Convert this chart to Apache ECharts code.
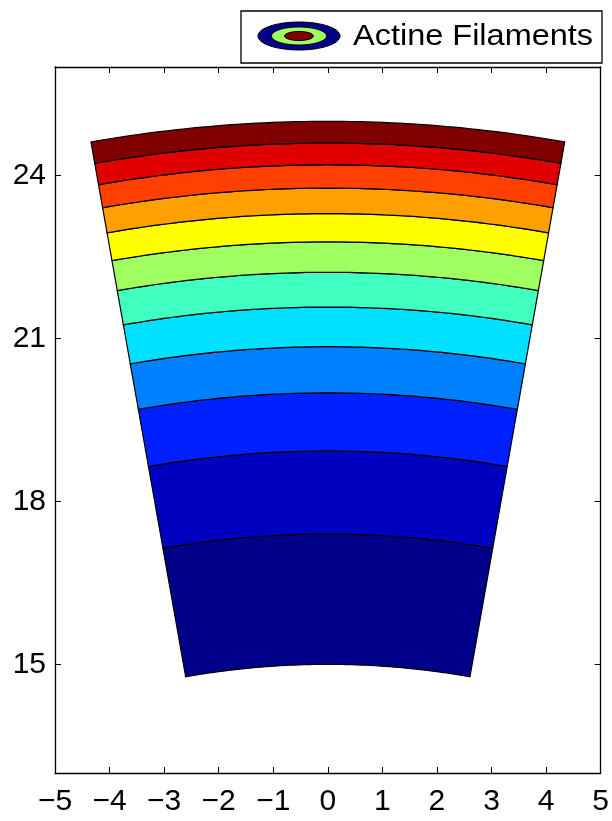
<!DOCTYPE html>
<html><head><meta charset="utf-8">
<script src="https://cdn.jsdelivr.net/npm/echarts@6/dist/echarts.min.js"></script>
<style>html,body{margin:0;padding:0;background:#fff}#c{width:612px;height:821px}</style>
</head><body><div id="c"></div>
<script>
// Band boundaries (radius values) of the contour sector
const bandEdges = [15, 17.4, 18.93, 20.0, 20.85, 21.58, 22.22, 22.78, 23.3, 23.77, 24.2, 24.6, 25];
const bandColors = ['#000088', '#0000C0', '#0020FF', '#0080FF', '#00E0FF', '#40FFC0', '#A0FF60', '#FFFF00', '#FFA000', '#FF4000', '#E00000', '#800000'];
const sectorAngles = [80, 100]; // degrees
const xTicks = [-5, -4, -3, -2, -1, 0, 1, 2, 3, 4, 5];
const yTicks = [15, 18, 21, 24];
const legendLabel = 'Actine Filaments';

const FONT = '"Liberation Sans", Arial, Helvetica, sans-serif';
const bands = bandColors.map((c, i) => [bandEdges[i], bandEdges[i + 1], i]);
const fmt = v => String(v).replace('-', '\u2212');

const chart = echarts.init(document.getElementById('c'), null, {renderer: 'canvas'});

function renderBand(params, api) {
  const r0 = api.value(0), r1 = api.value(1), idx = api.value(2);
  const a0 = sectorAngles[0] * Math.PI / 180, a1 = sectorAngles[1] * Math.PI / 180;
  const N = 60;
  const pts = [];
  for (let k = 0; k <= N; k++) {
    const a = a0 + (a1 - a0) * k / N;
    pts.push(api.coord([r1 * Math.cos(a), r1 * Math.sin(a)]));
  }
  for (let k = N; k >= 0; k--) {
    const a = a0 + (a1 - a0) * k / N;
    pts.push(api.coord([r0 * Math.cos(a), r0 * Math.sin(a)]));
  }
  return {
    type: 'polygon',
    shape: {points: pts},
    style: {fill: bandColors[idx], stroke: '#000', lineWidth: 1.2, lineJoin: 'miter'}
  };
}

const axisLineStyle = {show: true, onZero: false, lineStyle: {color: '#000', width: 1.3}};
const labelStyle = {fontSize: 30, color: '#000', fontFamily: FONT};

chart.setOption({
  animation: false,
  backgroundColor: '#fff',
  grid: {left: 55, right: 11, top: 67, bottom: 48, containLabel: false},
  xAxis: [
    {type: 'value', min: xTicks[0], max: xTicks[xTicks.length - 1], interval: 1, position: 'bottom',
     axisLine: axisLineStyle, axisTick: {inside: true, length: 6, lineStyle: {color: '#000', width: 1}},
     axisLabel: Object.assign({margin: 14, formatter: fmt}, labelStyle), splitLine: {show: false}},
    {type: 'value', min: xTicks[0], max: xTicks[xTicks.length - 1], interval: 1, position: 'top',
     axisLine: axisLineStyle, axisTick: {inside: true, length: 6, lineStyle: {color: '#000', width: 1}},
     axisLabel: {show: false}, splitLine: {show: false}}
  ],
  yAxis: [
    {type: 'value', min: 13, max: 26, position: 'left',
     axisLine: axisLineStyle, axisTick: {inside: true, length: 6, customValues: yTicks, lineStyle: {color: '#000', width: 1}},
     axisLabel: Object.assign({margin: 9, customValues: yTicks, formatter: fmt}, labelStyle), splitLine: {show: false}},
    {type: 'value', min: 13, max: 26, position: 'right',
     axisLine: axisLineStyle, axisTick: {inside: true, length: 6, customValues: yTicks, lineStyle: {color: '#000', width: 1}},
     axisLabel: {show: false}, splitLine: {show: false}}
  ],
  series: [{
    type: 'custom',
    name: legendLabel,
    xAxisIndex: 0, yAxisIndex: 0,
    renderItem: renderBand,
    data: bands,
    clip: false
  }],
  graphic: [
    {type: 'rect', shape: {x: 241, y: 11, width: 361, height: 52}, style: {fill: '#fff', stroke: '#000', lineWidth: 1.3}, z: 100},
    {type: 'ellipse', shape: {cx: 299, cy: 36, rx: 41, ry: 14}, style: {fill: bandColors[0], stroke: '#000', lineWidth: 1}, z: 101},
    {type: 'ellipse', shape: {cx: 299, cy: 36, rx: 27.5, ry: 9}, style: {fill: bandColors[6], stroke: '#000', lineWidth: 1}, z: 102},
    {type: 'ellipse', shape: {cx: 299, cy: 36, rx: 14.5, ry: 4.5}, style: {fill: bandColors[11], stroke: '#000', lineWidth: 1}, z: 103},
    {type: 'text', x: 353, y: 37, scaleX: 1.12, style: {text: legendLabel, font: '29px ' + FONT, fill: '#000', verticalAlign: 'middle', align: 'left'}, z: 104}
  ]
});
</script>
</body></html>
